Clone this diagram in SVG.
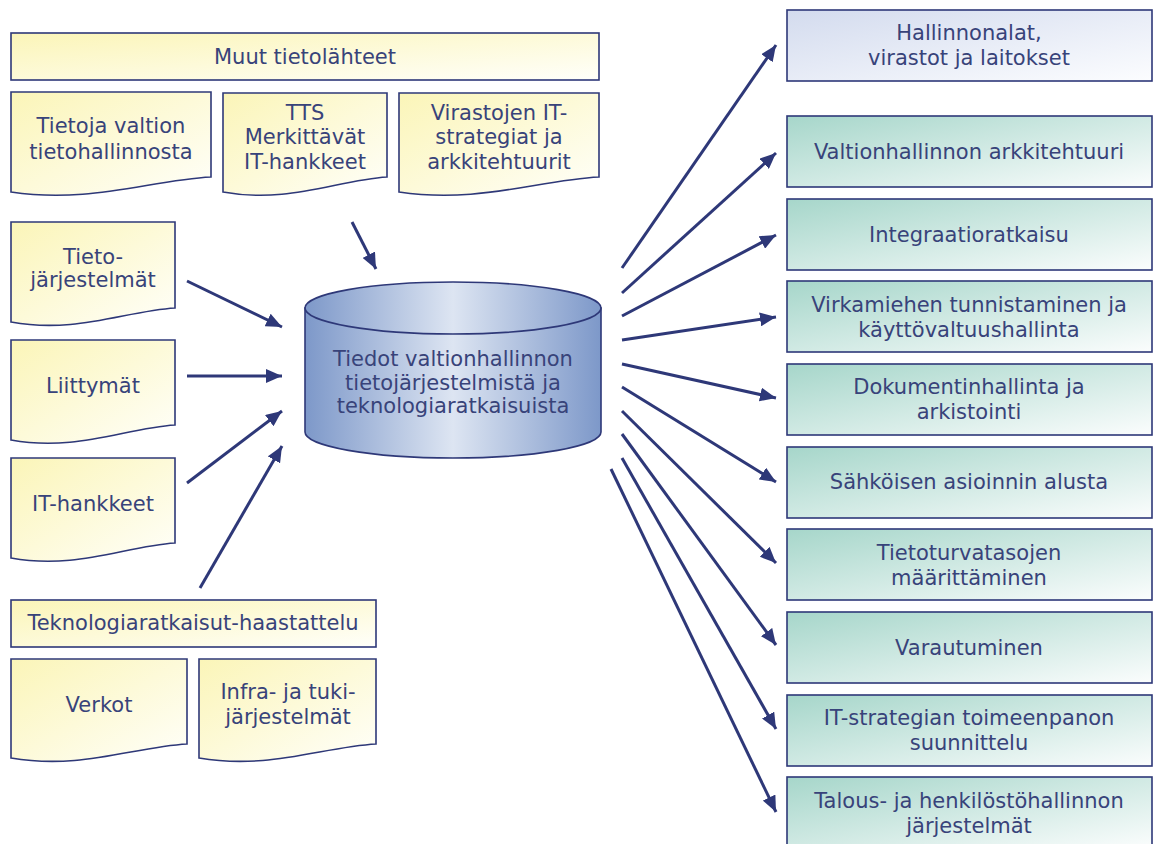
<svg xmlns="http://www.w3.org/2000/svg" width="1157" height="844" viewBox="0 0 1157 844">
<defs>
<linearGradient id="gy" x1="0" y1="0" x2="1" y2="1">
<stop offset="0" stop-color="#fbf5b8"/>
<stop offset="1" stop-color="#fffffa"/>
</linearGradient>
<linearGradient id="gt" x1="0" y1="0" x2="1" y2="1">
<stop offset="0" stop-color="#a6d6ca"/>
<stop offset="1" stop-color="#fbfdfd"/>
</linearGradient>
<linearGradient id="gb" x1="0" y1="0" x2="1" y2="1">
<stop offset="0" stop-color="#d3dbee"/>
<stop offset="1" stop-color="#fcfdff"/>
</linearGradient>
<linearGradient id="gc" x1="0" y1="0" x2="1" y2="0">
<stop offset="0" stop-color="#7d98c9"/>
<stop offset="0.5" stop-color="#dde5f2"/>
<stop offset="1" stop-color="#7d98c9"/>
</linearGradient>
<marker id="ah" markerUnits="userSpaceOnUse" markerWidth="18" markerHeight="14" refX="16" refY="7" orient="auto">
<path d="M0,0 L16,7 L0,14 z" fill="#2e3878"/>
</marker>
<style>
.t{font-family:"DejaVu Sans",Verdana,sans-serif;font-size:21px;fill:#38437a;text-anchor:middle}
.y{fill:url(#gy);stroke:#2e3878;stroke-width:1.6}
.tb{fill:url(#gt);stroke:#2e3878;stroke-width:1.6}
.bb{fill:url(#gb);stroke:#2e3878;stroke-width:1.6}
.c{stroke:#2e3878;stroke-width:3;fill:none;marker-end:url(#ah)}
</style>
</defs>
<rect width="1157" height="844" fill="#ffffff"/>

<g id="muut">
<rect class="y" x="11" y="33" width="588" height="47"/>
<text class="t" x="305" y="64">Muut tietolähteet</text>
</g>
<g id="tietoja">
<path class="y" d="M11,92 H211 V177 C150,180 90,204 11,192 Z"/>
<text class="t" x="111" y="133">Tietoja valtion</text>
<text class="t" x="111" y="159">tietohallinnosta</text>
</g>
<g id="tts">
<path class="y" d="M223,93 H387 V177 C337,180 288,204 223,192 Z"/>
<text class="t" x="305" y="120">TTS</text>
<text class="t" x="305" y="144">Merkittävät</text>
<text class="t" x="305" y="169">IT-hankkeet</text>
</g>
<g id="virastojen">
<path class="y" d="M399,93 H599 V177 C538,180 478,204 399,192 Z"/>
<text class="t" x="499" y="120">Virastojen IT-</text>
<text class="t" x="499" y="144">strategiat ja</text>
<text class="t" x="499" y="169">arkkitehtuurit</text>
</g>
<g id="tietojarjestelmat">
<path class="y" d="M11,222 H175 V308 C125,311 76,334 11,322 Z"/>
<text class="t" x="93" y="264">Tieto-</text>
<text class="t" x="93" y="287">järjestelmät</text>
</g>
<g id="liittymat">
<path class="y" d="M11,340 H175 V425 C125,428 76,452 11,440 Z"/>
<text class="t" x="93" y="393">Liittymät</text>
</g>
<g id="ithankkeet">
<path class="y" d="M11,458 H175 V543 C125,546 76,570 11,558 Z"/>
<text class="t" x="93" y="511">IT-hankkeet</text>
</g>
<g id="teknologia">
<rect class="y" x="11" y="600" width="365" height="47"/>
<text class="t" x="193" y="630">Teknologiaratkaisut-haastattelu</text>
</g>
<g id="verkot">
<path class="y" d="M11,659 H187 V744 C133,747 81,770 11,758 Z"/>
<text class="t" x="99" y="712">Verkot</text>
</g>
<g id="infra">
<path class="y" d="M199,659 H376 V744 C322,747 269,770 199,758 Z"/>
<text class="t" x="288" y="699">Infra- ja tuki-</text>
<text class="t" x="288" y="724">järjestelmät</text>
</g>

<g id="tietokanta">
<path d="M305,308 V432 A148,26 0 0 0 601,432 V308 Z" fill="url(#gc)" stroke="#2e3878" stroke-width="1.6"/>
<ellipse cx="453" cy="308" rx="148" ry="26" fill="url(#gc)" stroke="#2e3878" stroke-width="1.6"/>
<text class="t" x="453" y="366">Tiedot valtionhallinnon</text>
<text class="t" x="453" y="390">tietojärjestelmistä ja</text>
<text class="t" x="453" y="413">teknologiaratkaisuista</text>
</g>

<g id="hallinnonalat">
<rect class="bb" x="787" y="10" width="365" height="71"/>
<text class="t" x="969" y="40">Hallinnonalat,</text>
<text class="t" x="969" y="65">virastot ja laitokset</text>
</g>
<g id="arkkitehtuuri">
<rect class="tb" x="787" y="116" width="365" height="71"/>
<text class="t" x="969" y="159">Valtionhallinnon arkkitehtuuri</text>
</g>
<g id="integraatio">
<rect class="tb" x="787" y="199" width="365" height="71"/>
<text class="t" x="969" y="242">Integraatioratkaisu</text>
</g>
<g id="virkamiehen">
<rect class="tb" x="787" y="281" width="365" height="71"/>
<text class="t" x="969" y="312">Virkamiehen tunnistaminen ja</text>
<text class="t" x="969" y="337">käyttövaltuushallinta</text>
</g>
<g id="dokumentinhallinta">
<rect class="tb" x="787" y="364" width="365" height="71"/>
<text class="t" x="969" y="394">Dokumentinhallinta ja</text>
<text class="t" x="969" y="419">arkistointi</text>
</g>
<g id="sahkoisen">
<rect class="tb" x="787" y="447" width="365" height="71"/>
<text class="t" x="969" y="489">Sähköisen asioinnin alusta</text>
</g>
<g id="tietoturva">
<rect class="tb" x="787" y="529" width="365" height="71"/>
<text class="t" x="969" y="560">Tietoturvatasojen</text>
<text class="t" x="969" y="585">määrittäminen</text>
</g>
<g id="varautuminen">
<rect class="tb" x="787" y="612" width="365" height="71"/>
<text class="t" x="969" y="655">Varautuminen</text>
</g>
<g id="itstrategia">
<rect class="tb" x="787" y="695" width="365" height="71"/>
<text class="t" x="969" y="725">IT-strategian toimeenpanon</text>
<text class="t" x="969" y="750">suunnittelu</text>
</g>
<g id="talous">
<rect class="tb" x="787" y="777" width="365" height="71"/>
<text class="t" x="969" y="808">Talous- ja henkilöstöhallinnon</text>
<text class="t" x="969" y="833">järjestelmät</text>
</g>

<g id="connectors">
<line class="c" x1="352" y1="222" x2="376" y2="269"/>
<line class="c" x1="187" y1="281" x2="282" y2="327"/>
<line class="c" x1="187" y1="376" x2="282" y2="376"/>
<line class="c" x1="187" y1="483" x2="282" y2="411"/>
<line class="c" x1="200" y1="588" x2="282" y2="446"/>
<line class="c" x1="622" y1="268" x2="776" y2="45"/>
<line class="c" x1="622" y1="293" x2="776" y2="153"/>
<line class="c" x1="622" y1="316" x2="776" y2="235"/>
<line class="c" x1="622" y1="340" x2="776" y2="317"/>
<line class="c" x1="622" y1="364" x2="776" y2="398"/>
<line class="c" x1="622" y1="387" x2="776" y2="482"/>
<line class="c" x1="622" y1="411" x2="776" y2="563"/>
<line class="c" x1="622" y1="434" x2="776" y2="645"/>
<line class="c" x1="622" y1="458" x2="776" y2="729"/>
<line class="c" x1="611" y1="469" x2="776" y2="812"/>
</g>
</svg>
